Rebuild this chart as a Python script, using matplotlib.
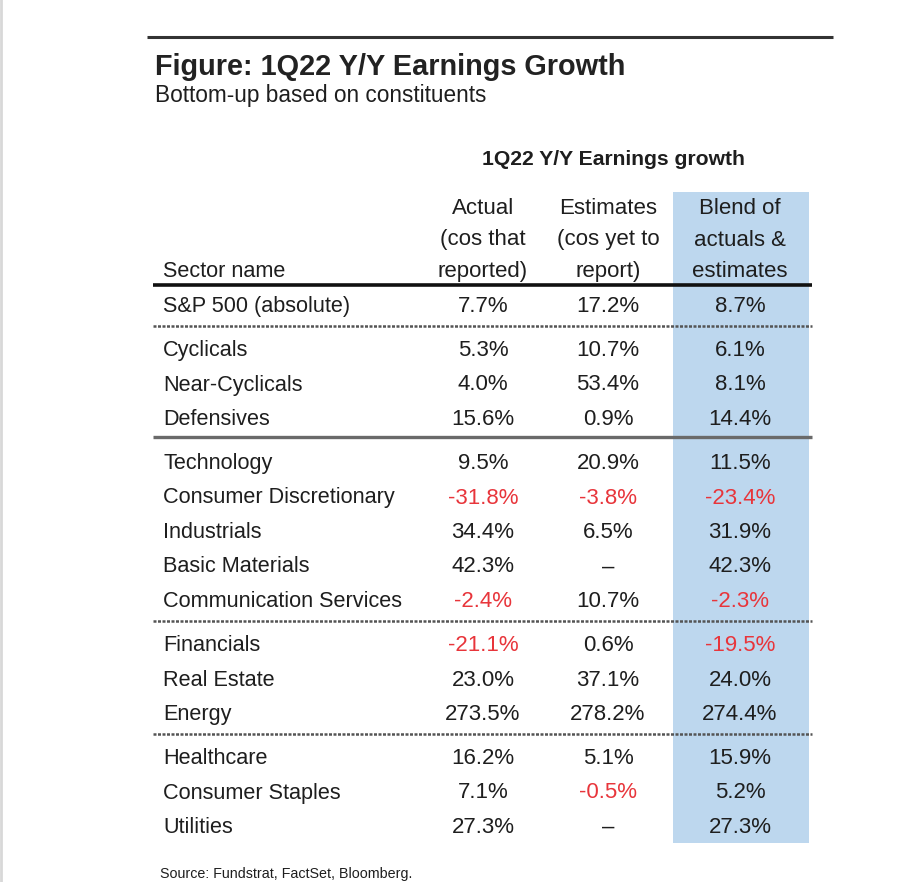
import matplotlib.pyplot as plt

plt.rcParams['font.family'] = ['Liberation Sans', 'DejaVu Sans']

# Table content
sectors = ["S&P 500 (absolute)", "Cyclicals", "Near-Cyclicals", "Defensives",
           "Technology", "Consumer Discretionary", "Industrials", "Basic Materials",
           "Communication Services", "Financials", "Real Estate", "Energy",
           "Healthcare", "Consumer Staples", "Utilities"]
actual = [7.7, 5.3, 4.0, 15.6, 9.5, -31.8, 34.4, 42.3, -2.4, -21.1, 23.0, 273.5, 16.2, 7.1, 27.3]
estimates = [17.2, 10.7, 53.4, 0.9, 20.9, -3.8, 6.5, None, 10.7, 0.6, 37.1, 278.2, 5.1, -0.5, None]
blend = [8.7, 6.1, 8.1, 14.4, 11.5, -23.4, 31.9, 42.3, -2.3, -19.5, 24.0, 274.4, 15.9, 5.2, 27.3]
group_of_row = [0, 1, 1, 1, 2, 2, 2, 2, 2, 3, 3, 3, 4, 4, 4]
# separator style after each group (0..3)
separators = ["dotted", "solid", "dotted", "dotted"]

col_headers = [["Actual", "(cos that", "reported)"],
               ["Estimates", "(cos yet to", "report)"],
               ["Blend of", "actuals &", "estimates"]]

title = "Figure: 1Q22 Y/Y Earnings Growth"
subtitle = "Bottom-up based on constituents"
super_header = "1Q22 Y/Y Earnings growth"
source = "Source: Fundstrat, FactSet, Bloomberg."

# layout (pixels)
W, H = 922, 882
TEXT = "#1e1e1e"
RED = "#e8353b"
BLUE = "#bdd7ee"
label_x = 163
col_x = [483, 608, 740]
left, right = 153, 812
row0, row_h, gap = 305, 34.5, 9.5
fs = 15.6


def row_y(i):
    return row0 + i * row_h + group_of_row[i] * gap


def fmt(v):
    return "–" if v is None else f"{v:.1f}%"


fig = plt.figure(figsize=(W / 100, H / 100), dpi=100)
ax = fig.add_axes([0, 0, 1, 1])
ax.set_xlim(0, W)
ax.set_ylim(H, 0)
ax.axis('off')

# faint page edge on the left
ax.plot([1, 1], [0, H], color="#d8d8d8", lw=2)

# top rule, title block
ax.plot([147, 833], [37, 37], color="#333333", lw=2.2, solid_capstyle='butt')
ax.text(155, 75, title, fontsize=20.8, fontweight='bold', color="#222222", va='baseline')
ax.text(155, 102, subtitle, fontsize=16.3, color=TEXT, va='baseline')

# blended column shading
ax.add_patch(plt.Rectangle((673, 192), 136, 651, color=BLUE, lw=0, zorder=0))

ax.text(613, 165, super_header, fontsize=15.2, fontweight='bold', color=TEXT,
        ha='center', va='baseline')

# column headers
for x, lines in zip(col_x, col_headers):
    for k, line in enumerate(lines):
        ax.text(x, 277 - (2 - k) * 31.5, line, fontsize=16, color=TEXT,
                ha='center', va='baseline')
ax.text(label_x, 277, "Sector name", fontsize=fs, color=TEXT, va='baseline')
ax.plot([left, right], [285, 285], color="#111111", lw=2.6, solid_capstyle='butt')

# rows
for i, name in enumerate(sectors):
    y = row_y(i) + 7
    ax.text(label_x, y, name, fontsize=fs, color=TEXT, va='baseline')
    for x, vals in zip(col_x, [actual, estimates, blend]):
        v = vals[i]
        c = RED if (v is not None and v < 0) else TEXT
        ax.text(x, y, fmt(v), fontsize=16, color=c, ha='center', va='baseline')

# group separators
for g, style in enumerate(separators):
    last = max(i for i, gg in enumerate(group_of_row) if gg == g)
    y = (row_y(last) + row_y(last + 1)) / 2 - 1
    if style == "solid":
        y -= 2
        ax.plot([left, right], [y, y], color="#6a6a6a", lw=2.4, solid_capstyle='butt')
    else:
        ax.plot([left, right], [y, y], color="#555555", lw=1.8, linestyle=(0, (1.2, 0.6)))

ax.text(160, 878, source, fontsize=10.3, color=TEXT, va='baseline')

fig.savefig("out.png", dpi=100, facecolor='white')
